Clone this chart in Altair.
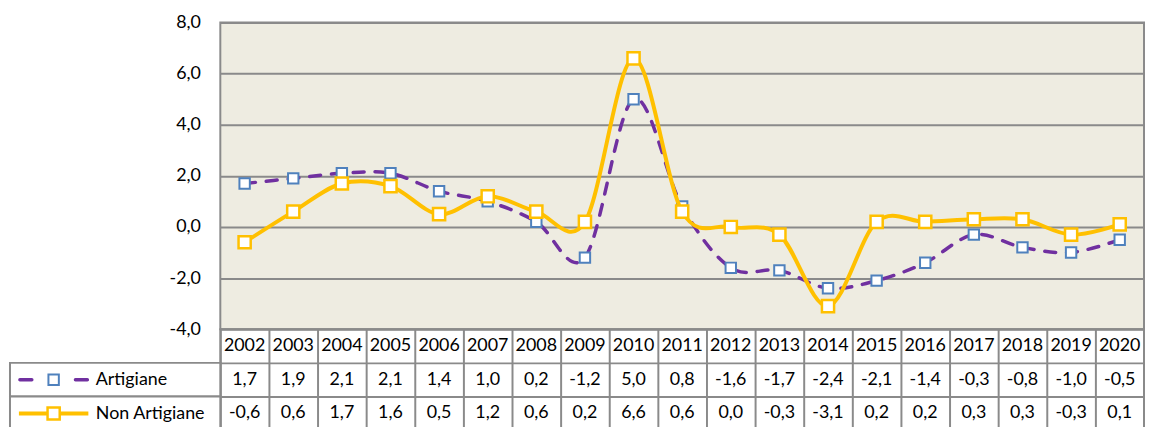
import altair as alt
import pandas as pd

# ---------------- data ----------------
years = [str(y) for y in range(2002, 2021)]
artigiane = [1.7, 1.9, 2.1, 2.1, 1.4, 1.0, 0.2, -1.2, 5.0, 0.8, -1.6, -1.7, -2.4, -2.1, -1.4, -0.3, -0.8, -1.0, -0.5]
non_artigiane = [-0.6, 0.6, 1.7, 1.6, 0.5, 1.2, 0.6, 0.2, 6.6, 0.6, 0.0, -0.3, -3.1, 0.2, 0.2, 0.3, 0.3, -0.3, 0.1]
series_names = ["Artigiane", "Non Artigiane"]
y_ticks = [-4, -2, 0, 2, 4, 6, 8]

# ---------------- style ----------------
FONT = "Lato"
FS = 18
GRAY = "#8A8A8A"
PURPLE = "#7030A0"
BLUE = "#4F81BD"
YELLOW = "#FFC000"
BG = "#EEECE1"
PLOT_W = 931
PLOT_H = 309
TABLE_H = 102


def fmt(v):
    return f"{v:.1f}".replace(".", ",")


line_df = pd.DataFrame(
    [{"year": y, "series": series_names[0], "value": v} for y, v in zip(years, artigiane)]
    + [{"year": y, "series": series_names[1], "value": v} for y, v in zip(years, non_artigiane)]
)

row_keys = ["Anno"] + series_names
table_df = pd.DataFrame(
    [{"year": y, "row": "Anno", "text": y} for y in years]
    + [{"year": y, "row": series_names[0], "text": fmt(v)} for y, v in zip(years, artigiane)]
    + [{"year": y, "row": series_names[1], "text": fmt(v)} for y, v in zip(years, non_artigiane)]
)
legend_df = pd.DataFrame({"row": series_names})

# ---------------- top: line chart ----------------
x_top = alt.X("year:O", scale=alt.Scale(type="point", padding=0.5), axis=None)
y_top = alt.Y(
    "value:Q",
    scale=alt.Scale(domain=[-4, 8], nice=False, zero=False),
    axis=alt.Axis(
        values=y_ticks, title=None, grid=True, gridColor=GRAY, gridWidth=2,
        domain=False, ticks=False, labelPadding=20, labelFont=FONT,
        labelFontSize=FS, labelColor="black",
        labelExpr="(datum.value < 0 ? '-' : '') + replace(format(abs(datum.value), '.1f'), '.', ',')",
    ),
)
base = alt.Chart(line_df).encode(x=x_top, y=y_top)

art_line = base.transform_filter(alt.datum.series == series_names[0]).mark_line(
    interpolate="cardinal", color=PURPLE, strokeWidth=3.5, strokeDash=[11, 11], strokeCap="round"
)
art_pts = base.transform_filter(alt.datum.series == series_names[0]).mark_point(
    shape="square", filled=True, fill="white", stroke=BLUE, strokeWidth=2, size=110, opacity=1
)
non_line = base.transform_filter(alt.datum.series == series_names[1]).mark_line(
    interpolate="cardinal", color=YELLOW, strokeWidth=4
)
non_pts = base.transform_filter(alt.datum.series == series_names[1]).mark_point(
    shape="square", filled=True, fill="white", stroke=YELLOW, strokeWidth=2.5, size=150, opacity=1
)

top = alt.layer(art_line, art_pts, non_line, non_pts).properties(
    width=PLOT_W, height=PLOT_H,
    view=alt.ViewBackground(fill=BG, stroke=GRAY, strokeWidth=2),
)

# ---------------- bottom: data table ----------------
tx = alt.X(
    "year:N",
    scale=alt.Scale(type="band", paddingInner=0, paddingOuter=0),
    axis=alt.Axis(grid=True, tickBand="extent", labels=False, ticks=False, domain=False,
                  title=None, gridColor=GRAY, gridWidth=2),
)
ty = alt.Y(
    "row:N",
    scale=alt.Scale(domain=row_keys, paddingInner=0, paddingOuter=0),
    axis=alt.Axis(grid=True, tickBand="extent", ticks=False, domain=False, title=None,
                  gridColor=GRAY, gridWidth=2,
                  labelExpr="datum.value == 'Anno' ? '' : datum.value",
                  labelAlign="left", labelPadding=126, labelFont=FONT, labelFontSize=FS,
                  labelColor="black", labelLimit=0),
)

cells = alt.Chart(legend_df).mark_rect(fill="white", stroke=GRAY, strokeWidth=2).encode(
    x=alt.value(-212), x2=alt.value(0), y=ty
)
texts = alt.Chart(table_df).mark_text(font=FONT, fontSize=FS, color="black").encode(
    x=tx, y=ty, text="text:N"
)
leg_art_line = alt.Chart(legend_df).transform_filter(alt.datum.row == series_names[0]).mark_rule(
    color=PURPLE, strokeWidth=3.5, strokeDash=[12, 44], strokeCap="round"
).encode(x=alt.value(-202), x2=alt.value(-134), y=ty)
leg_art_pt = alt.Chart(legend_df).transform_filter(alt.datum.row == series_names[0]).mark_point(
    shape="square", filled=True, fill="white", stroke=BLUE, strokeWidth=2, size=110, opacity=1
).encode(x=alt.value(-168), y=ty)
leg_non_line = alt.Chart(legend_df).transform_filter(alt.datum.row == series_names[1]).mark_rule(
    color=YELLOW, strokeWidth=4
).encode(x=alt.value(-203), x2=alt.value(-133), y=ty)
leg_non_pt = alt.Chart(legend_df).transform_filter(alt.datum.row == series_names[1]).mark_point(
    shape="square", filled=True, fill="white", stroke=YELLOW, strokeWidth=2.5, size=150, opacity=1
).encode(x=alt.value(-168), y=ty)

table = alt.layer(cells, texts, leg_art_line, leg_art_pt, leg_non_line, leg_non_pt).properties(
    width=PLOT_W, height=TABLE_H,
    view=alt.ViewBackground(fill="white", stroke=GRAY, strokeWidth=2),
)

chart = alt.vconcat(top, table, spacing=0, bounds="flush").properties(
    padding={"left": 0, "top": 3, "right": 0, "bottom": 0}
).configure(font=FONT)

chart.save("out.html", embed_options={"renderer": "svg", "actions": False})
